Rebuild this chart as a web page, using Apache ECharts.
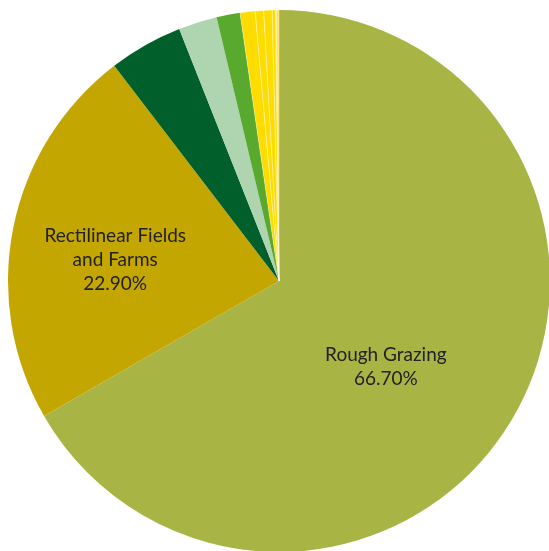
<!DOCTYPE html>
<html>
<head>
<meta charset="utf-8">
<style>
  html, body { margin: 0; padding: 0; background: #ffffff; }
  #chart { width: 549px; height: 551px; }
</style>
<script src="https://cdn.jsdelivr.net/npm/echarts@6/dist/echarts.min.js"></script>
</head>
<body>
<div id="chart"></div>
<script>
// Landscape character types, share of area (%)
const categories = [
  'Rough Grazing',
  'Rectilinear Fields and Farms',
  'Plantation Woodland',
  'Semi-natural Woodland',
  'Improved Pasture',
  'Settlement',
  'Quarrying',
  'Recreation',
  'Industrial',
  'Water',
  'Military'
];
const shares = [66.7, 22.9, 4.4, 2.3, 1.4, 0.9, 0.5, 0.5, 0.2, 0.05, 0.15];
const colors = [
  '#a8b545', '#c4a600', '#005f2a', '#aed4b0', '#58a92e',
  '#ffdc00', '#ffdc00', '#ffdc00', '#ffdc00', '#ffdc00', '#ffe066'
];
// Only the two largest types carry a label
const labelled = ['Rough Grazing', 'Rectilinear Fields and Farms'];
const labelText = {
  'Rough Grazing': 'Rough Grazing',
  'Rectilinear Fields and Farms': 'Rectilinear Fields\nand Farms'
};
const labelShift = {
  'Rough Grazing': [-13, 16],
  'Rectilinear Fields and Farms': [-28, 6]
};

const data = categories.map((name, i) => ({
  name,
  value: shares[i],
  itemStyle: {
    color: colors[i],
    borderColor: i >= 5 ? 'rgba(255,255,255,0.55)' : colors[i],
    borderWidth: i >= 5 ? 0.6 : 0
  },
  label: { show: labelled.includes(name) }
}));

const chart = echarts.init(document.getElementById('chart'), null, { renderer: 'canvas' });
chart.setOption({
  animation: false,
  series: [{
    type: 'pie',
    center: [279, 281],
    radius: [0, 271],
    startAngle: 90,
    clockwise: true,
    avoidLabelOverlap: false,
    data,
    label: {
      position: 'inside',
      color: '#222222',
      fontFamily: 'Lato',
      fontSize: 19,
      lineHeight: 24,
      align: 'center',
      formatter: p => labelText[p.name] + '\n' + p.value.toFixed(2) + '%'
    },
    labelLine: { show: false },
    labelLayout: p => {
      const name = categories[p.dataIndex];
      const s = labelShift[name] || [0, 0];
      return { dx: s[0], dy: s[1] };
    },
    emphasis: { disabled: true }
  }]
});
</script>
</body>
</html>
